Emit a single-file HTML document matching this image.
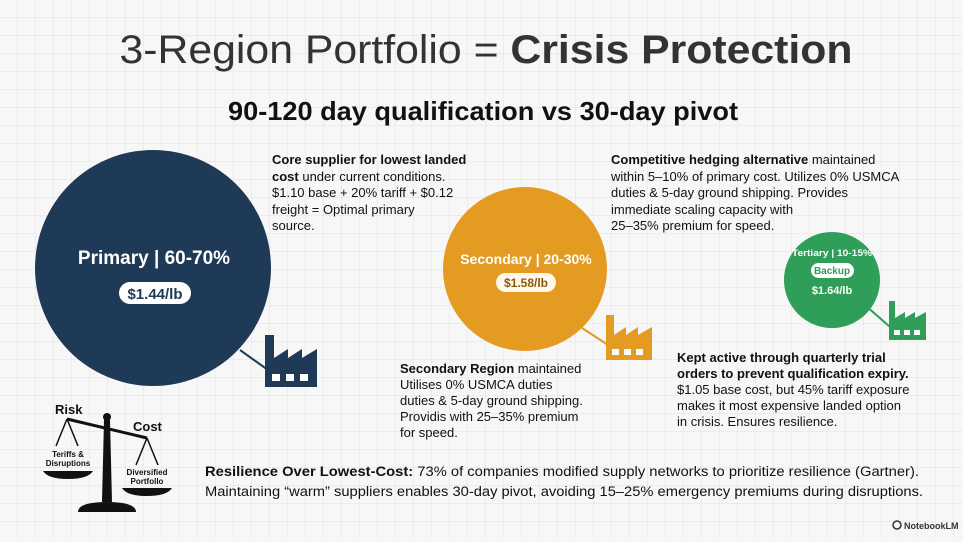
<!DOCTYPE html>
<html><head><meta charset="utf-8"><style>
html,body{margin:0;padding:0;}
body{width:963px;height:537px;overflow:hidden;background:#f7f7f7;font-family:"Liberation Sans",sans-serif;}
</style></head><body>
<svg width="963" height="537" viewBox="0 0 963 537" xmlns="http://www.w3.org/2000/svg" font-family="Liberation Sans, sans-serif">
<defs>
<pattern id="grid" width="18" height="18" patternUnits="userSpaceOnUse">
<path d="M18 0V18H0" fill="none" stroke="#e0e0e0" stroke-width="1"/>
</pattern>
</defs>
<rect width="963" height="537" fill="url(#grid)"/>

<text x="486" y="63" text-anchor="middle" font-size="40" fill="#333" textLength="733" lengthAdjust="spacingAndGlyphs">3-Region Portfolio = <tspan font-weight="bold">Crisis Protection</tspan></text>
<text x="483" y="120" text-anchor="middle" font-size="26" font-weight="bold" fill="#111" textLength="510" lengthAdjust="spacingAndGlyphs">90-120 day qualification vs 30-day pivot</text>

<line x1="240" y1="350" x2="268" y2="370" stroke="#1f3a56" stroke-width="2"/>
<line x1="582" y1="328" x2="608" y2="345" stroke="#e39b22" stroke-width="2"/>
<line x1="865" y1="305" x2="890" y2="327" stroke="#2e9e58" stroke-width="2"/>

<circle cx="153" cy="268" r="118" fill="#1f3a56"/>
<text x="154" y="264" text-anchor="middle" font-size="19" font-weight="bold" fill="#fff">Primary | 60-70%</text>
<rect x="119" y="282" width="72" height="22" rx="11" fill="#fff"/>
<text x="155" y="299" text-anchor="middle" font-size="15" font-weight="bold" fill="#1f3a56">$1.44/lb</text>
<g fill="#1f3a56">
<path d="M265 387V335h9v23l14-9v9l14-9v9l15-9v38z"/>
<rect x="272" y="374" width="8" height="7" fill="#fff"/><rect x="286" y="374" width="8" height="7" fill="#fff"/><rect x="300" y="374" width="8" height="7" fill="#fff"/>
</g>

<circle cx="525" cy="269" r="82" fill="#e39b22"/>
<text x="526" y="264" text-anchor="middle" font-size="14" font-weight="bold" fill="#fff">Secondary | 20-30%</text>
<rect x="496" y="273" width="60" height="19" rx="9.5" fill="#fff8ea"/>
<text x="526" y="287" text-anchor="middle" font-size="12" font-weight="bold" fill="#8a5a0c">$1.58/lb</text>
<g fill="#e39b22">
<path d="M606 360V315h8v20l12-8v8l12-8v8l14-8v33z"/>
<rect x="612" y="349" width="7" height="6" fill="#fff"/><rect x="624" y="349" width="7" height="6" fill="#fff"/><rect x="636" y="349" width="7" height="6" fill="#fff"/>
</g>

<circle cx="832" cy="280" r="48" fill="#2e9e58"/>
<text x="832" y="256" text-anchor="middle" font-size="9.5" font-weight="bold" fill="#fff" textLength="80" lengthAdjust="spacingAndGlyphs">Tertiary | 10-15%</text>
<rect x="811" y="263" width="43" height="15" rx="7.5" fill="#fff"/>
<text x="832" y="274" text-anchor="middle" font-size="10" font-weight="bold" fill="#2e9e58">Backup</text>
<text x="832" y="294" text-anchor="middle" font-size="11" font-weight="bold" fill="#fff">$1.64/lb</text>
<g fill="#2e9e58">
<path d="M889 340V301h6v17l10-6v6l10-6v6l11-6v28z"/>
<rect x="894" y="330" width="6" height="5" fill="#fff"/><rect x="904" y="330" width="6" height="5" fill="#fff"/><rect x="914" y="330" width="6" height="5" fill="#fff"/>
</g>

<g font-size="13" fill="#111">
<text x="272" y="164"><tspan font-weight="bold">Core supplier for lowest landed</tspan></text>
<text x="272" y="181"><tspan font-weight="bold">cost</tspan> under current conditions.</text>
<text x="272" y="197">$1.10 base + 20% tariff + $0.12</text>
<text x="272" y="214">freight = Optimal primary</text>
<text x="272" y="230">source.</text>
</g>
<g font-size="13" fill="#111">
<text x="611" y="164"><tspan font-weight="bold">Competitive hedging alternative</tspan> maintained</text>
<text x="611" y="181">within 5–10% of primary cost. Utilizes 0% USMCA</text>
<text x="611" y="197">duties &amp; 5-day ground shipping. Provides</text>
<text x="611" y="214">immediate scaling capacity with</text>
<text x="611" y="230">25–35% premium for speed.</text>
</g>
<g font-size="13" fill="#111">
<text x="400" y="373"><tspan font-weight="bold">Secondary Region</tspan> maintained</text>
<text x="400" y="389">Utilises 0% USMCA duties</text>
<text x="400" y="405">duties &amp; 5-day ground shipping.</text>
<text x="400" y="421">Providis with 25–35% premium</text>
<text x="400" y="437">for speed.</text>
</g>
<g font-size="13" fill="#111">
<text x="677" y="362" font-weight="bold">Kept active through quarterly trial</text>
<text x="677" y="378" font-weight="bold">orders to prevent qualification expiry.</text>
<text x="677" y="394">$1.05 base cost, but 45% tariff exposure</text>
<text x="677" y="410">makes it most expensive landed option</text>
<text x="677" y="426">in crisis. Ensures resilience.</text>
</g>

<g fill="#111" stroke="#111">
<line x1="67" y1="419" x2="147" y2="438" stroke-width="3"/>
<circle cx="107" cy="417" r="4" stroke="none"/>
<path d="M104 420h6l2 82h-10z" stroke="none"/>
<path d="M78 512q0-10 29-10t29 10z" stroke="none"/>
<line x1="67" y1="419" x2="56" y2="446" stroke-width="1.5"/><line x1="67" y1="419" x2="78" y2="446" stroke-width="1.5"/>
<line x1="147" y1="438" x2="136" y2="465" stroke-width="1.5"/><line x1="147" y1="438" x2="158" y2="465" stroke-width="1.5"/>
<path d="M43 471h50q-5 8-25 8t-25-8z" stroke="none"/>
<path d="M122 488h50q-5 8-25 8t-25-8z" stroke="none"/>
</g>
<text x="55" y="414" font-size="13" font-weight="bold" fill="#111">Risk</text>
<text x="133" y="431" font-size="13" font-weight="bold" fill="#111">Cost</text>
<text x="68" y="457" text-anchor="middle" font-size="8" font-weight="bold" fill="#111">Teriffs &amp;</text>
<text x="68" y="466" text-anchor="middle" font-size="8" font-weight="bold" fill="#111">Disruptions</text>
<text x="147" y="475" text-anchor="middle" font-size="8" font-weight="bold" fill="#111">Diversified</text>
<text x="147" y="484" text-anchor="middle" font-size="8" font-weight="bold" fill="#111">Portfollo</text>

<g font-size="13.5" fill="#111">
<text x="205" y="476" textLength="714" lengthAdjust="spacingAndGlyphs"><tspan font-weight="bold">Resilience Over Lowest-Cost:</tspan> 73% of companies modified supply networks to prioritize resilience (Gartner).</text>
<text x="205" y="496" textLength="718" lengthAdjust="spacingAndGlyphs">Maintaining “warm” suppliers enables 30-day pivot, avoiding 15–25% emergency premiums during disruptions.</text>
</g>
<g>
<circle cx="897" cy="525" r="4" fill="none" stroke="#333" stroke-width="1.5"/>
<text x="904" y="529" font-size="9" font-weight="bold" fill="#333">NotebookLM</text>
</g>
</svg>
</body></html>
